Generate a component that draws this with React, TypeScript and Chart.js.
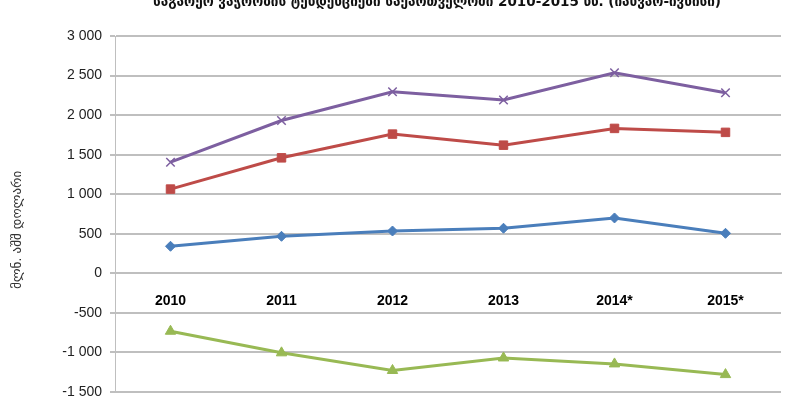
import React, { useEffect, useRef } from "react";
import { Chart, registerables } from "chart.js";

Chart.register(...registerables);

const categories = ["2010", "2011", "2012", "2013", "2014*", "2015*"];
const exportsSeries = [342, 468, 535, 570, 700, 506];
const importsSeries = [1065, 1460, 1760, 1620, 1832, 1782];
const turnoverSeries = [1405, 1932, 2295, 2190, 2535, 2283];
const balanceSeries = [-732, -1005, -1228, -1070, -1145, -1280];
const yTicks = [-1500, -1000, -500, 0, 500, 1000, 1500, 2000, 2500, 3000];

const titleText = "საგარეო ვაჭრობის ტენდენციები საქართველოში 2010-2015 წწ. (იანვარ-ივნისი)";
const yAxisTitle = "მლნ. აშშ დოლარი";

const fmt = (v: number) => {
  const s = Math.abs(v).toString().replace(/\B(?=(\d{3})+(?!\d))/g, " ");
  return (v < 0 ? "-" : "") + s;
};

const textPlugin = {
  id: "textPlugin",
  afterDraw(chart: any) {
    const ctx = chart.ctx;
    ctx.save();
    ctx.font = "bold 13.5px 'DejaVu Sans'";
    ctx.fillStyle = "#111";
    ctx.textAlign = "center";
    ctx.textBaseline = "middle";
    ctx.fillText(titleText, 437, 2);
    ctx.translate(18, 230);
    ctx.rotate(-Math.PI / 2);
    ctx.font = "13px 'DejaVu Sans'";
    ctx.fillStyle = "#333";
    ctx.fillText(yAxisTitle, 0, 0);
    ctx.restore();
  },
};

export default function App() {
  const ref = useRef<HTMLCanvasElement | null>(null);
  useEffect(() => {
    if (!ref.current) return;
    const mk = (label: string, data: number[], color: string, style: any, radius: number, extra: any = {}) => ({
      label,
      data,
      borderColor: color,
      backgroundColor: color,
      borderWidth: 3,
      pointStyle: style,
      pointRadius: radius,
      pointBorderColor: color,
      pointBackgroundColor: color,
      pointBorderWidth: 1,
      tension: 0,
      ...extra,
    });
    const chart = new Chart(ref.current, {
      type: "line",
      data: {
        labels: categories,
        datasets: [
          mk("ექსპორტი", exportsSeries, "#4A7EBB", "rectRot", 5),
          mk("იმპორტი", importsSeries, "#BE4B48", "rect", 6),
          mk("ბრუნვა", turnoverSeries, "#7D5FA0", "crossRot", 6, { pointBorderWidth: 1.5 }),
          mk("სალდო", balanceSeries, "#98B954", "triangle", 6),
        ],
      },
      options: {
        animation: false,
        responsive: false,
        layout: { padding: { top: 36, right: 19, bottom: 28, left: 0 } },
        plugins: {
          legend: { display: false },
          tooltip: { enabled: false },
          title: { display: false },
        },
        scales: {
          x: {
            type: "category",
            offset: true,
            position: { y: 0 } as any,
            grid: { display: false, drawTicks: false },
            border: { display: true, color: "#BFBFBF", width: 2 },
            ticks: {
              color: "#000",
              padding: 19,
              font: { family: "'Liberation Sans', Arial", size: 14, weight: "bold" },
            },
          },
          y: {
            type: "linear",
            min: -1500,
            max: 3000,
            afterBuildTicks: (scale: any) => {
              scale.ticks = yTicks.map((v) => ({ value: v }));
            },
            afterFit: (scale: any) => {
              scale.width = 115;
            },
            grid: {
              color: "#BFBFBF",
              lineWidth: 2,
              tickLength: 5,
              tickColor: "#BFBFBF",
            },
            border: { display: true, color: "#BFBFBF", width: 1 },
            ticks: {
              color: "#222",
              padding: 8,
              font: { family: "'Liberation Sans', Arial", size: 14 },
              callback: (v: any) => fmt(Number(v)),
            },
          },
        },
      },
      plugins: [textPlugin],
    } as any);
    return () => chart.destroy();
  }, []);
  return (
    <div style={{ position: "absolute", left: 0, top: 0, width: 800, height: 420, background: "#fff" }}>
      <canvas ref={ref} width={800} height={420} style={{ width: 800, height: 420 }} />
    </div>
  );
}
